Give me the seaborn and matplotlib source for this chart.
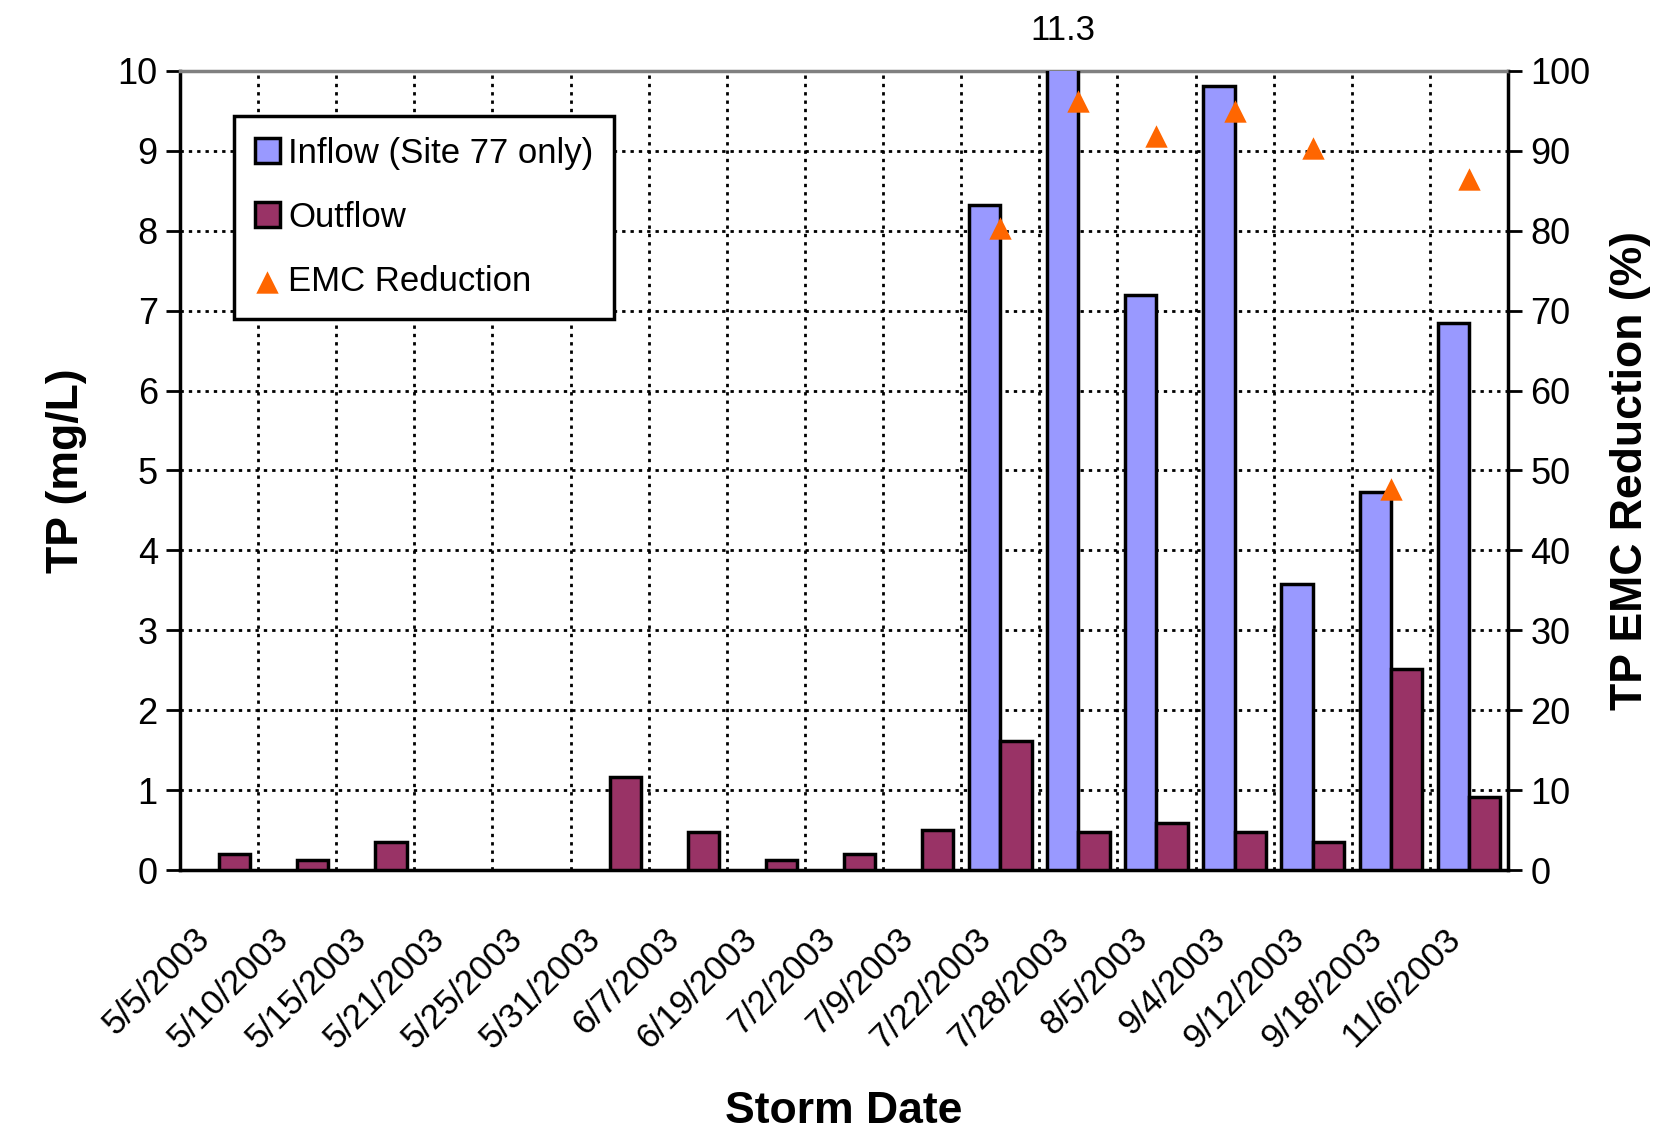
import numpy as np
import pandas as pd
import matplotlib
matplotlib.use("Agg")
import matplotlib.pyplot as plt
import matplotlib.transforms as mtransforms
import seaborn as sns
from matplotlib.ticker import MultipleLocator, FixedLocator

# data
storm_dates = ["5/5/2003", "5/10/2003", "5/15/2003", "5/21/2003", "5/25/2003",
               "5/31/2003", "6/7/2003", "6/19/2003", "7/2/2003", "7/9/2003",
               "7/22/2003", "7/28/2003", "8/5/2003", "9/4/2003", "9/12/2003",
               "9/18/2003", "11/6/2003"]
inflow_tp = [None, None, None, None, None, None, None, None, None, None,
             8.32, 11.3, 7.19, 9.81, 3.58, 4.73, 6.85]
outflow_tp = [0.20, 0.13, 0.35, None, None, 1.17, 0.48, 0.13, 0.20, 0.50,
              1.62, 0.47, 0.59, 0.47, 0.35, 2.51, 0.92]
emc_dates = ["7/22/2003", "7/28/2003", "8/5/2003", "9/4/2003", "9/12/2003",
             "9/18/2003", "11/6/2003"]
emc_reduction = [80.4, 96.2, 91.9, 95.0, 90.4, 47.7, 86.5]

series_names = ["Inflow (Site 77 only)", "Outflow"]
series_colors = ["#9999FF", "#993366"]
emc_color = "#FF6600"

sns.set_style("white")
plt.rcParams["font.family"] = ["Liberation Sans", "DejaVu Sans"]
for key in ["text.color", "axes.labelcolor", "xtick.color", "ytick.color"]:
    plt.rcParams[key] = "black"

df = pd.DataFrame({
    "date": storm_dates * 2,
    "series": [series_names[0]] * len(storm_dates) + [series_names[1]] * len(storm_dates),
    "tp": pd.to_numeric(pd.Series(inflow_tp + outflow_tp), errors="coerce"),
})

fig = plt.figure(figsize=(16.59, 11.37), dpi=100)
ax = fig.add_axes([0.1085, 0.2348, 0.8005, 0.7028])

sns.barplot(data=df, x="date", y="tp", hue="series", order=storm_dates,
            hue_order=series_names, palette=series_colors, saturation=1,
            errorbar=None, width=0.8, edgecolor="black", linewidth=2.5,
            ax=ax, zorder=3)

n = len(storm_dates)
ax.set_xlim(-0.5, n - 0.5)
ax.set_ylim(0, 10)
ax.yaxis.set_major_locator(MultipleLocator(1))
ax.xaxis.set_minor_locator(FixedLocator(np.arange(n + 1) - 0.5))
ax.tick_params(axis="x", which="major", length=0, pad=46, labelsize=25)
ax.tick_params(axis="x", which="minor", length=10, width=2, color="black")
ax.tick_params(axis="y", which="major", length=10, width=2, labelsize=26, pad=6)
shift = mtransforms.ScaledTranslation(-14 / 100, 0, fig.dpi_scale_trans)
for lbl in ax.get_xticklabels():
    lbl.set_rotation(45)
    lbl.set_ha("right")
    lbl.set_va("center")
    lbl.set_rotation_mode("anchor")
    lbl.set_transform(lbl.get_transform() + shift)
ax.grid(False)
ax.yaxis.grid(True, which="major", linestyle=(0, (1.2, 1.8)), color="black", linewidth=2)
ax.xaxis.grid(True, which="minor", linestyle=(0, (1.2, 1.8)), color="black", linewidth=2)
ax.set_axisbelow(True)

for side in ["left", "bottom", "right"]:
    ax.spines[side].set_color("black")
    ax.spines[side].set_linewidth(2.5)
ax.spines["top"].set_color("#808080")
ax.spines["top"].set_linewidth(2.5)

ax.set_xlabel("Storm Date", fontsize=32, fontweight="bold", labelpad=26)
ax.set_ylabel("TP (mg/L)", fontsize=32, fontweight="bold", labelpad=22)

# value label for the clipped inflow bar
clip_idx = storm_dates.index("7/28/2003")
ax.text(clip_idx - 0.2, 10.5, f"{inflow_tp[clip_idx]:.1f}", ha="center", va="center",
        fontsize=25, clip_on=False)

# EMC reduction on secondary axis
ax2 = ax.twinx()
emc_pos = [storm_dates.index(d) for d in emc_dates]
sns.scatterplot(x=emc_pos, y=emc_reduction, marker="^", s=260, color=emc_color,
                edgecolor=emc_color, linewidth=0, ax=ax2, label="EMC Reduction",
                zorder=4)
ax2.set_ylim(0, 100)
ax2.set_xlim(-0.5, n - 0.5)
ax2.yaxis.set_major_locator(MultipleLocator(10))
ax2.tick_params(axis="y", which="major", length=10, width=2, labelsize=26, pad=6)
ax2.set_ylabel("TP EMC Reduction (%)", fontsize=32, fontweight="bold",
               rotation=90, labelpad=14)
ax2.grid(False)
for side in ["left", "bottom", "right", "top"]:
    ax2.spines[side].set_visible(False)
ax2.get_legend().remove()

h1, l1 = ax.get_legend_handles_labels()
h2, l2 = ax2.get_legend_handles_labels()
ax.get_legend().remove()
leg = ax2.legend(h1 + h2, l1 + l2, loc="upper left", bbox_to_anchor=(0.041, 0.944),
                 fontsize=25, frameon=True, fancybox=False, edgecolor="black",
                 framealpha=1, borderpad=0.6, labelspacing=0.9, handlelength=0.7,
                 handleheight=0.7, handletextpad=0.25, borderaxespad=0)
leg.get_frame().set_linewidth(2.5)

fig.savefig("out.png", dpi=100)
